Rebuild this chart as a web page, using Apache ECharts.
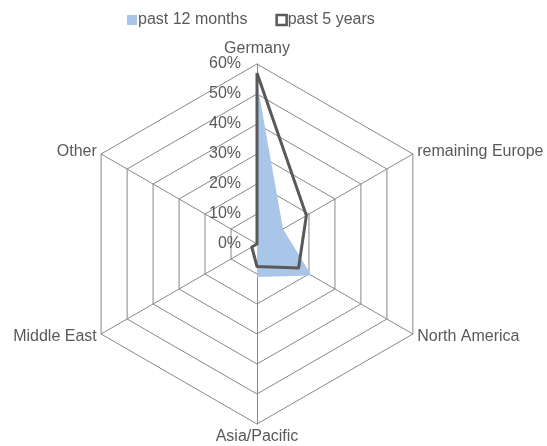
<!DOCTYPE html>
<html>
<head>
<meta charset="utf-8">
<script src="https://cdn.jsdelivr.net/npm/echarts@6/dist/echarts.min.js"></script>
<style>
  html, body { margin: 0; padding: 0; background: #fff; }
  #chart { width: 547px; height: 446px; }
</style>
</head>
<body>
<div id="chart"></div>
<script>
// Regions, listed clockwise starting at the top
const categories = ['Germany', 'remaining Europe', 'North America', 'Asia/Pacific', 'Middle East', 'Other'];
// Share of business per region, in percent
const past12Months = [54, 10, 21, 11, 0, 0];
const past5Years = [57, 19, 16, 7.5, 2, 0];
const seriesNames = ['past 12 months', 'past 5 years'];
const scaleMax = 60;

// ECharts lays indicators out counter-clockwise; reorder so they read clockwise.
const order = [0].concat(categories.slice(1).map((_, i) => categories.length - 1 - i));
const reorder = arr => order.map(i => arr[i]);

const textColor = '#595959';
const gridColor = '#878787';
const font = 'Liberation Sans, Arial, sans-serif';
const fontSize = 16;

const indicator = reorder(categories).map((name, i) => {
  const ind = { name: name, min: 0, max: scaleMax };
  if (i === 0) {
    ind.axisLabel = {
      show: true,
      formatter: '{value}%',
      color: textColor,
      fontSize: fontSize,
      fontFamily: font,
      margin: 16
    };
  }
  return ind;
});

const chart = echarts.init(document.getElementById('chart'));
chart.setOption({
  animation: false,
  legend: {
    left: 122,
    top: 7,
    itemWidth: 10,
    itemHeight: 10,
    itemGap: 28,
    icon: 'rect',
    textStyle: { color: textColor, fontSize: fontSize, fontFamily: font, padding: [0, 0, 0, -4] },
    data: [
      { name: seriesNames[0], itemStyle: { color: '#a9c5e7', borderWidth: 0 } },
      { name: seriesNames[1], itemStyle: { color: '#ffffff', borderColor: '#595959', borderWidth: 2.5 } }
    ]
  },
  radar: {
    center: [257, 244],
    radius: 180,
    shape: 'polygon',
    splitNumber: 6,
    nameGap: 5,
    axisName: { color: textColor, fontSize: fontSize, fontFamily: font },
    axisLine: { lineStyle: { color: gridColor, width: 1 } },
    splitLine: { lineStyle: { color: gridColor, width: 1 } },
    splitArea: { show: false },
    axisTick: { show: false },
    indicator: indicator
  },
  series: [{
    type: 'radar',
    symbol: 'none',
    data: [
      {
        name: seriesNames[0],
        value: reorder(past12Months),
        lineStyle: { width: 0, color: '#a9c5e7' },
        itemStyle: { color: '#a9c5e7' },
        areaStyle: { color: '#a9c5e7', opacity: 1 }
      },
      {
        name: seriesNames[1],
        value: reorder(past5Years),
        lineStyle: { width: 3, color: '#595959' },
        itemStyle: { color: '#595959' }
      }
    ]
  }]
});
</script>
</body>
</html>
